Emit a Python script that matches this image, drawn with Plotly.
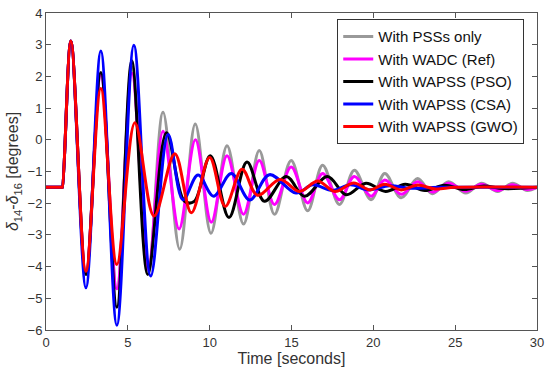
import plotly.graph_objects as go

# ---------------- data ----------------
t_pss = [0, 0.98, 1.0, 1.52, 2.44, 3.35, 4.33, 5.25, 6.25, 7.15, 8.17, 9.12, 10.08, 11.06, 12.07,
         13.03, 13.96, 14.98, 15.99, 16.9, 17.93, 18.84, 19.86, 20.7, 21.7, 22.7, 23.6, 24.6,
         25.65, 26.6, 27.6, 28.5, 29.4, 30]
y_pss = [-1.5, -1.5, -1.5, 3.12, -4.25, 2.1, -4.7, 2.3, -4.2, 0.87, -3.45, 0.5, -2.95, -0.19, -2.66,
         -0.34, -2.35, -0.65, -2.24, -0.8, -2.04, -0.96, -1.89, -1.06, -1.83, -1.22, -1.7, -1.32,
         -1.68, -1.37, -1.63, -1.37, -1.6, -1.5]

t_wadc = [0, 0.98, 1.0, 1.52, 2.44, 3.35, 4.33, 5.25, 6.25, 7.15, 8.13, 9.13, 10.1, 11.06, 12.07,
          13.03, 13.96, 14.98, 15.99, 16.9, 17.93, 18.84, 19.86, 20.7, 21.7, 22.7, 23.6, 24.6,
          25.65, 26.6, 27.6, 28.5, 29.4, 30]
y_wadc = [-1.5, -1.5, -1.5, 3.12, -4.2, 2.05, -4.7, 2.1, -4.1, 0.27, -2.81, 0.0, -2.6, -0.5, -2.35,
          -0.65, -2.04, -0.86, -1.99, -1.06, -1.89, -1.16, -1.78, -1.27, -1.72, -1.32, -1.65, -1.37,
          -1.62, -1.4, -1.6, -1.42, -1.57, -1.5]

t_pso = [0, 0.98, 1.0, 1.52, 2.44, 3.35, 4.33, 5.24, 6.22, 7.36, 8.45, 9.05, 10.04, 11.18, 12.28,
         13.35, 14.68, 15.79, 17.2, 18.34, 19.55, 20.75, 21.95, 23.15, 24.35, 25.55, 26.75,
         27.95, 30]
y_pso = [-1.5, -1.5, -1.5, 3.12, -4.25, 2.12, -5.28, 2.49, -4.25, 0.22, -1.93, -1.95, -0.5, -2.45, -0.7,
         -1.94, -1.16, -1.78, -1.16, -1.73, -1.37, -1.63, -1.4, -1.6, -1.43, -1.57, -1.46,
         -1.54, -1.5]

t_csa = [0, 0.98, 1.0, 1.52, 2.44, 3.35, 4.33, 5.37, 6.4, 7.46, 8.37, 9.29, 10.24, 11.32, 12.45,
         13.65, 15.28, 16.3, 17.5, 18.6, 19.7, 21.0, 22.3, 24.0, 30]
y_csa = [-1.5, -1.5, -1.5, 3.12, -4.67, 2.8, -5.85, 2.98, -4.3, 0.17, -1.89, -1.11, -1.78, -1.06, -1.9,
         -1.1, -1.68, -1.42, -1.6, -1.42, -1.58, -1.45, -1.53, -1.5, -1.5]

t_gwo = [0, 0.98, 1.0, 1.52, 2.44, 3.35, 4.33, 5.43, 6.6, 7.87, 8.88, 10.0, 10.95, 11.98, 12.92,
         14.3, 15.5, 16.6, 17.65, 18.8, 19.8, 20.7, 21.7, 22.65, 23.8, 25.0, 30]
y_gwo = [-1.5, -1.5, -1.5, 3.12, -4.15, 1.62, -3.93, 0.54, -2.4, -0.44, -2.3, -0.56, -2.1, -0.93, -1.75,
         -1.25, -1.63, -1.3, -1.63, -1.36, -1.58, -1.4, -1.58, -1.43, -1.55, -1.5, -1.5]

names = ["With PSSs only", "With WADC (Ref)", "With WAPSS (PSO)", "With WAPSS (CSA)", "With WAPSS (GWO)"]
colors = ["#999999", "#FF00FF", "#000000", "#0000FF", "#FF0000"]
series = [(t_pss, y_pss), (t_wadc, y_wadc), (t_pso, y_pso), (t_csa, y_csa), (t_gwo, y_gwo)]

x_ticks = [0, 5, 10, 15, 20, 25, 30]
y_ticks = [-6, -5, -4, -3, -2, -1, 0, 1, 2, 3, 4]

# ---------------- figure ----------------
fig = go.Figure()
for i, ((tt, yy), nm, col) in enumerate(zip(series, names, colors)):
    fig.add_trace(go.Scatter(x=tt, y=yy, mode="lines", name=nm,
                             line=dict(color=col, width=3, shape="spline", smoothing=1.0)))

axis_col = "#555555"
fig.update_layout(
    width=550, height=379,
    margin=dict(l=46, r=12, t=6, b=49),
    paper_bgcolor="white", plot_bgcolor="white",
    font=dict(family="Liberation Sans, Arial, sans-serif", size=13, color="#333333"),
    showlegend=True,
    legend=dict(x=0.974, y=0.98, xanchor="right", yanchor="top",
                bgcolor="white", bordercolor="#333333", borderwidth=1,
                font=dict(size=15, color="#111111"), tracegroupgap=0,
                itemwidth=30),
)
fig.update_xaxes(range=[0, 30], tickvals=x_ticks, ticks="inside", ticklen=5, tickcolor=axis_col,
                 showline=True, linecolor=axis_col, linewidth=1, mirror="ticks",
                 showgrid=False, zeroline=False, ticklabeloverflow="allow",
                 title=dict(text="Time [seconds]", standoff=3))
fig.update_yaxes(range=[-6, 4], tickvals=y_ticks, ticks="inside", ticklen=5, tickcolor=axis_col,
                 showline=True, linecolor=axis_col, linewidth=1, mirror="ticks",
                 showgrid=False, zeroline=False, ticklabeloverflow="allow",
                 title=dict(text="<i>δ</i><sub>14</sub>-<i>δ</i><sub>16</sub> [degrees]", standoff=4))

fig.write_html("out.html", config={"displayModeBar": False},
               post_script="document.body.style.margin='0';document.body.style.padding='0';")
